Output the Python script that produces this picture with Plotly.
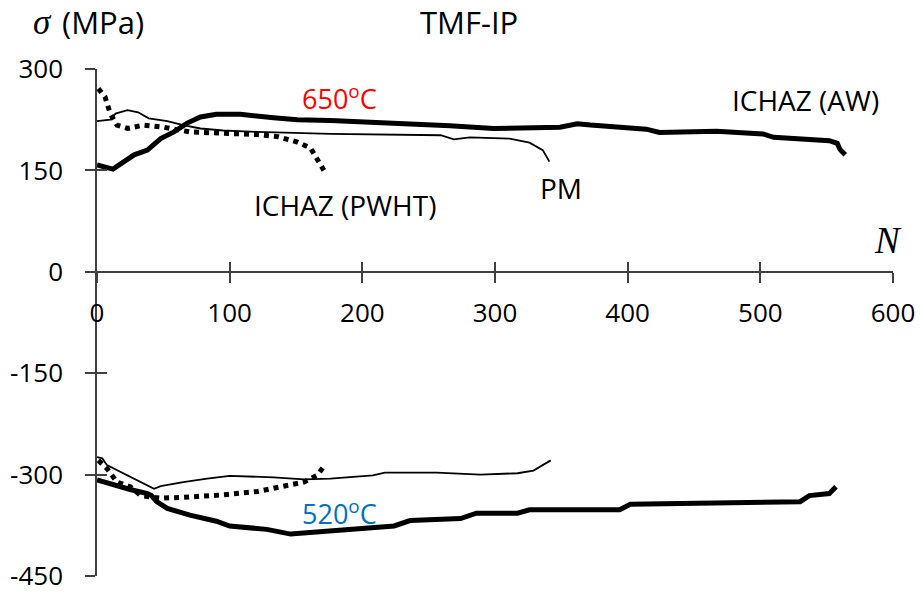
import plotly.graph_objects as go

# Stress response vs. cycle count, TMF in-phase test
# 650 °C (tensile peak) branch
aw_650_n = [0, 12, 28, 38, 48, 58, 68, 78, 90, 108, 133, 151, 176, 226, 266, 299, 349, 362, 372, 414, 424, 467, 502, 510, 552, 558, 560, 564]
aw_650_s = [158, 152, 173, 180, 197, 207, 220, 229, 233, 233, 228, 225, 224, 220, 216, 212, 214, 219, 217, 211, 206, 208, 204, 199, 194, 190, 181, 173]

pm_650_n = [0, 10, 14, 23, 31, 39, 53, 65, 78, 95, 121, 176, 259, 269, 281, 311, 326, 336, 341]
pm_650_s = [223, 225, 234, 239, 236, 227, 223, 217, 212, 209, 207, 204, 202, 196, 199, 197, 191, 180, 163]

pwht_650_n = [1, 6, 10, 15, 23, 35, 50, 60, 70, 95, 121, 136, 151, 161, 167, 171]
pwht_650_s = [271, 259, 234, 217, 212, 217, 214, 210, 207, 205, 203, 200, 192, 183, 165, 150]

# 520 °C (compressive peak) branch
aw_520_n = [0, 5, 12.5, 25, 38, 41, 45, 53, 70, 90, 100, 128, 146, 178, 224, 236, 274, 286, 317, 326, 394, 402, 530, 537, 552, 557]
aw_520_s = [-308, -311, -316, -322, -328, -331, -340, -350, -360, -369, -376, -381, -388, -383, -376, -368, -365, -357, -357, -352, -352, -344, -340, -331, -328, -318]

pm_520_n = [0, 4, 7.5, 23, 43, 48, 65, 83, 100, 133, 156, 176, 208, 217, 256, 289, 317, 329, 342]
pm_520_s = [-274, -276, -286, -301, -321, -317, -311, -306, -302, -304, -307, -306, -301, -297, -297, -300, -298, -294, -279]

pwht_520_n = [1, 7.5, 15, 25, 33, 39, 48, 70, 95, 121, 141, 156, 166, 171]
pwht_520_s = [-279, -291, -311, -318, -331, -333, -335, -333, -330, -325, -317, -311, -301, -288]

x_ticks = [0, 100, 200, 300, 400, 500, 600]
x_tick_labels = ["0", "100", "200", "300", "400", "500", "600"]
y_ticks = [300, 150, 0, -150, -300, -450]
y_tick_labels = ["300", "150", "0", "-150", "-300", "-450"]
x_range = [0, 600]
y_range = [-450, 300]

FONT = "Open Sans"
AXIS_COLOR = "#404040"

fig = go.Figure()

styles = {
    "aw": dict(color="black", width=5, dash="solid"),
    "pm": dict(color="black", width=1.8, dash="solid"),
    "pwht": dict(color="black", width=5, dash="dot"),
}

for n, s, key in [
    (aw_650_n, aw_650_s, "aw"), (pm_650_n, pm_650_s, "pm"), (pwht_650_n, pwht_650_s, "pwht"),
    (aw_520_n, aw_520_s, "aw"), (pm_520_n, pm_520_s, "pm"), (pwht_520_n, pwht_520_s, "pwht"),
]:
    fig.add_trace(go.Scatter(x=n, y=s, mode="lines", line=styles[key],
                             showlegend=False, hoverinfo="skip"))

# helper trace so the inward-tick axes are drawn
fig.add_trace(go.Scatter(x=[], y=[], xaxis="x2", yaxis="y2", showlegend=False))

tick_common = dict(ticklen=10, tickwidth=1.5, tickcolor=AXIS_COLOR,
                   showgrid=False, zeroline=False, automargin=False)

fig.update_layout(
    width=920, height=592,
    margin=dict(l=97, r=27, t=69, b=16),
    paper_bgcolor="white", plot_bgcolor="white",
    font=dict(family=FONT, color="black"),
    xaxis=dict(range=x_range, tickvals=x_ticks, ticktext=x_tick_labels, ticks="outside",
               showline=True, linecolor=AXIS_COLOR, linewidth=1.5,
               anchor="free", position=0.6, ticklabeloverflow="allow",
               tickfont=dict(size=26, family=FONT, color="black"),
               ticklabelstandoff=8, **tick_common),
    yaxis=dict(range=y_range, tickvals=y_ticks, ticktext=y_tick_labels, ticks="outside",
               showline=True, linecolor=AXIS_COLOR, linewidth=1.5,
               ticklabeloverflow="allow",
               tickfont=dict(size=26, family=FONT, color="black"),
               ticklabelstandoff=17, **tick_common),
    xaxis2=dict(range=x_range, tickvals=x_ticks, ticks="inside",
                overlaying="x", anchor="free", position=0.6,
                showticklabels=False, showline=False, **tick_common),
    yaxis2=dict(range=y_range, tickvals=y_ticks, ticks="inside",
                overlaying="y", anchor="x2", side="left",
                showticklabels=False, showline=False, **tick_common),
)

annotations = [
    dict(text="650<sup>o</sup>C", x=153, y=258, xref="x", yref="y",
         xanchor="left", font=dict(size=27, color="#FF0000")),
    dict(text="ICHAZ (AW)", x=477, y=254, xref="x", yref="y",
         xanchor="left", font=dict(size=28, color="black")),
    dict(text="ICHAZ (PWHT)", x=117, y=99, xref="x", yref="y",
         xanchor="left", font=dict(size=28, color="black")),
    dict(text="PM", x=332.5, y=124, xref="x", yref="y",
         xanchor="left", font=dict(size=28, color="black")),
    dict(text="520<sup>o</sup>C", x=153, y=-356, xref="x", yref="y",
         xanchor="left", font=dict(size=27, color="#0070C0")),
    dict(text="<i>N</i>", x=596.5, y=47, xref="x", yref="y",
         xanchor="center", font=dict(size=37, color="black", family="Liberation Serif")),
    dict(text="TMF-IP", x=0.467, y=1.093, xref="paper", yref="paper",
         xanchor="center", font=dict(size=31, color="black")),
    dict(text="<i>σ</i>", x=-0.083, y=1.091, xref="paper", yref="paper",
         xanchor="left", font=dict(size=35, color="black", family="Liberation Serif")),
    dict(text="(MPa)", x=-0.046, y=1.093, xref="paper", yref="paper",
         xanchor="left", font=dict(size=31, color="black")),
]
for a in annotations:
    a.setdefault("showarrow", False)
    a.setdefault("yanchor", "middle")
fig.update_layout(annotations=annotations)

fig.write_html("out.html")
